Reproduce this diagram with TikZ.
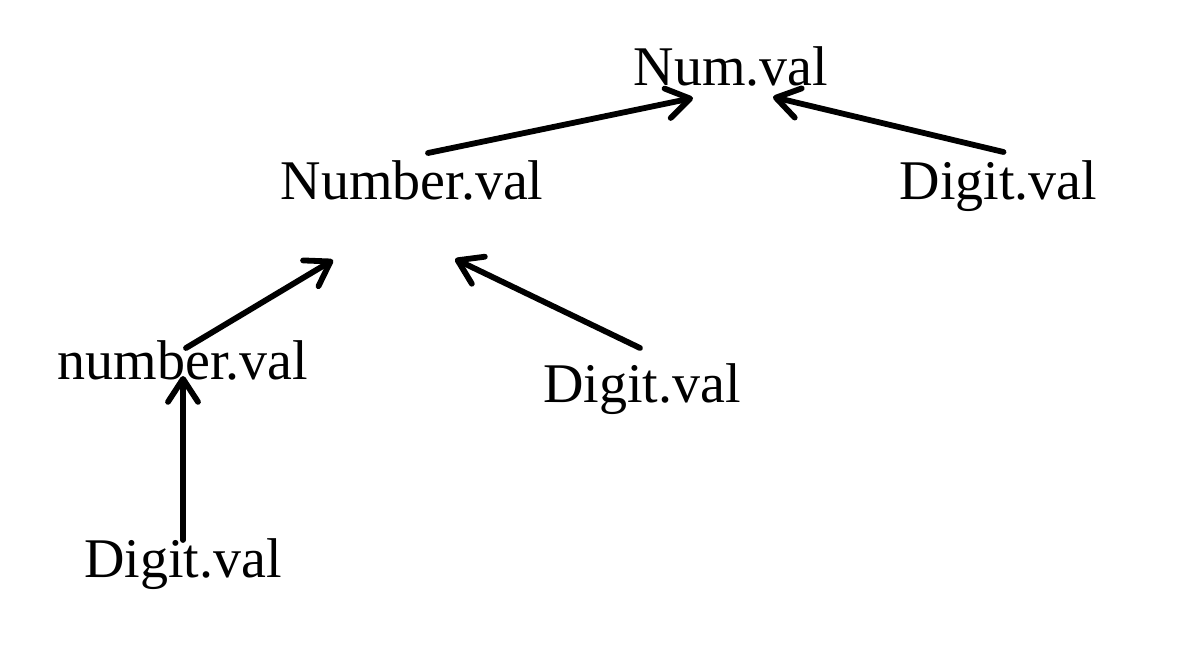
\documentclass[tikz,border=0pt]{standalone}
\usepackage{fontspec}
\setmainfont{Liberation Serif}
\usetikzlibrary{arrows.meta,calc}
\begin{document}
\begin{tikzpicture}[x=0.5pt,y=-0.5pt,
  lbl/.style={anchor=base,inner sep=0pt,font=\fontsize{28}{32}\selectfont},
  conn/.style={line width=2.9pt,line cap=round,-{Straight Barb[length=11.5pt,width=15pt,line cap=round,line join=round]}}]
\useasboundingbox (0,0) rectangle (1188,652);
\node[lbl] (num) at (731,86) {Num.val};
\node[lbl] (Number) at (412,200) {Number.val};
\node[lbl] (d1) at (998.5,200) {Digit.val};
\node[lbl] (number) at (183,379) {number.val};
\node[lbl] (d2) at (642,402) {Digit.val};
\node[lbl] (d3) at (183,577) {Digit.val};
\draw[conn] ($(Number.base)+(16,-47)$) -- ($(num.base)+(-38,12)$);
\draw[conn] ($(d1.base)+(5,-48)$) -- ($(num.base)+(42,11)$);
\draw[conn] ($(number.base)+(3,-31)$) -- ($(Number.base)+(-79,60)$);
\draw[conn] ($(d2.base)+(-2,-54)$) -- ($(Number.base)+(43,59)$);
\draw[conn] ($(d3.base)+(0,-37)$) -- ($(number.base)+(0,-3)$);
\end{tikzpicture}
\end{document}
